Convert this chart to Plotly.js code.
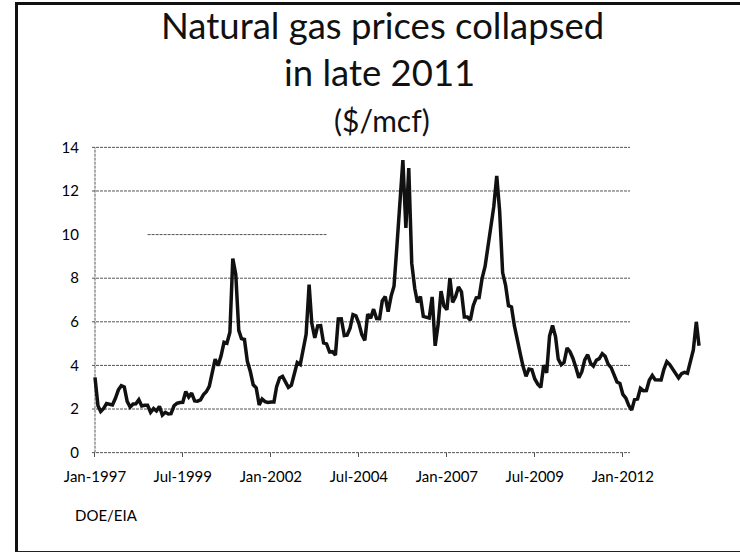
<!DOCTYPE html>
<html>
<head>
<meta charset="utf-8">
<script src="https://cdn.plot.ly/plotly-3.0.1.min.js"></script>
<style>
  body { margin: 0; background: #fff; }
  #wrap { position: relative; width: 740px; height: 552px; }
  #frame {
    position: absolute; left: 15px; top: 2px; width: 740px; height: 546px;
    border-left: 3px solid #111; border-top: 3px solid #111; border-bottom: 2px solid #222;
    pointer-events: none;
  }
</style>
</head>
<body>
<div id="wrap">
  <div id="chart" style="width:740px;height:552px;"></div>
  <div id="frame"></div>
</div>
<script>
// Henry Hub spot, $/mcf, monthly from Jan-1997
const startYear = 1997;
const price = [
  3.45, 2.15, 1.89, 2.03, 2.25, 2.20, 2.19, 2.49, 2.88, 3.07, 3.01, 2.35, // 1997
  2.09, 2.23, 2.24, 2.43, 2.14, 2.17, 2.17, 1.85, 2.02, 1.91, 2.12, 1.72, // 1998
  1.85, 1.77, 1.79, 2.15, 2.26, 2.30, 2.31, 2.80, 2.55, 2.73, 2.37, 2.36, // 1999
  2.42, 2.66, 2.79, 3.04, 3.59, 4.29, 3.99, 4.43, 5.06, 5.02, 5.52, 8.90, // 2000
  8.17, 5.61, 5.23, 5.19, 4.19, 3.72, 3.11, 2.97, 2.19, 2.46, 2.34, 2.30, // 2001
  2.32, 2.32, 3.03, 3.43, 3.50, 3.26, 2.99, 3.09, 3.55, 4.13, 4.04, 4.74, // 2002
  5.43, 7.71, 5.93, 5.26, 5.81, 5.82, 5.03, 4.99, 4.62, 4.63, 4.47, 6.13, // 2003
  6.14, 5.37, 5.39, 5.71, 6.33, 6.27, 5.93, 5.41, 5.15, 6.35, 6.17, 6.58, // 2004
  6.15, 6.14, 6.96, 7.16, 6.47, 7.18, 7.63, 9.53, 11.75, 13.42, 10.30, 13.05, // 2005
  8.69, 7.54, 6.89, 7.16, 6.25, 6.21, 6.17, 7.14, 4.90, 5.85, 7.41, 6.73, // 2006
  6.55, 8.00, 6.89, 7.16, 7.60, 7.37, 6.22, 6.22, 6.08, 6.74, 7.10, 7.11, // 2007
  7.99, 8.54, 9.41, 10.18, 11.27, 12.69, 11.09, 8.26, 7.67, 6.74, 6.68, 5.82, // 2008
  5.24, 4.52, 3.96, 3.50, 3.83, 3.80, 3.38, 3.14, 2.99, 4.01, 3.66, 5.35, // 2009
  5.83, 5.32, 4.29, 4.03, 4.14, 4.80, 4.63, 4.32, 3.89, 3.43, 3.71, 4.25, // 2010
  4.49, 4.09, 3.97, 4.24, 4.31, 4.54, 4.42, 4.06, 3.90, 3.57, 3.24, 3.17, // 2011
  2.67, 2.50, 2.17, 1.95, 2.43, 2.46, 2.95, 2.84, 2.85, 3.32, 3.54, 3.34, // 2012
  3.33, 3.33, 3.81, 4.17, 4.04, 3.83, 3.62, 3.43, 3.62, 3.68, 3.64, 4.24, // 2013
  4.71, 6.00, 4.90                                                         // 2014
];

const tickVals = ['1997-01-01', '1999-07-01', '2002-01-01', '2004-07-01', '2007-01-01', '2009-07-01', '2012-01-01'];
const tickText = ['Jan-1997', 'Jul-1999', 'Jan-2002', 'Jul-2004', 'Jan-2007', 'Jul-2009', 'Jan-2012'];
const yTicks = [0, 2, 4, 6, 8, 10, 12, 14];

// month dates for the series
const dates = price.map((v, i) => {
  const y = startYear + Math.floor(i / 12);
  const m = String(i % 12 + 1).padStart(2, '0');
  return y + '-' + m + '-01';
});

// plot box in pixels
const W = 740, H = 552;
const M = { l: 92, r: 38, t: 143, b: 95 };
const px = x => (x - M.l) / (W - M.l - M.r);
const py = y => (H - M.b - y) / (H - M.t - M.b);

const gridColor = '#555';
const gridEnd = '2012-03-15';

const shapes = yTicks.map(v => {
  // the 10 line only survives in part on the scan
  const partial = v === 10;
  return {
    type: 'line', layer: 'below', xref: 'x', yref: 'y',
    x0: partial ? '1998-07-01' : '1996-12-01', x1: partial ? '2003-08-01' : gridEnd,
    y0: v, y1: v,
    line: { color: gridColor, width: 1, dash: '3px,1px' }
  };
});
shapes.push({
  type: 'line', layer: 'below', xref: 'x', yref: 'y',
  x0: '1997-01-01', x1: '1997-01-01', y0: 0, y1: 14,
  line: { color: gridColor, width: 1, dash: '3px,1px' }
});

const titleFont = { family: 'Lato, sans-serif', size: 36.5, color: '#111' };

Plotly.newPlot('chart', [{
  x: dates,
  y: price,
  type: 'scatter',
  mode: 'lines',
  line: { color: '#111', width: 3.5 },
  hoverinfo: 'x+y'
}], {
  width: W, height: H,
  margin: M,
  paper_bgcolor: '#fff', plot_bgcolor: '#fff',
  showlegend: false,
  font: { family: 'Lato, sans-serif', size: 15, color: '#000' },
  xaxis: {
    type: 'date',
    range: ['1996-12-01', '2014-04-01'],
    tickvals: tickVals, ticktext: tickText,
    ticks: 'inside', ticklen: 4, tickcolor: gridColor, tickwidth: 1,
    showgrid: false, zeroline: false, showline: false,
    ticklabelstandoff: 9
  },
  yaxis: {
    range: [-0.2, 14.2],
    tickvals: yTicks,
    ticks: '', showgrid: false, zeroline: false, showline: false,
    ticklabelstandoff: 12
  },
  shapes: shapes,
  annotations: [
    { text: 'Natural gas prices collapsed', xref: 'paper', yref: 'paper', x: px(382), y: py(25),
      xanchor: 'center', yanchor: 'middle', showarrow: false, font: titleFont },
    { text: 'in late 2011', xref: 'paper', yref: 'paper', x: px(379), y: py(72),
      xanchor: 'center', yanchor: 'middle', showarrow: false, font: titleFont },
    { text: '($/mcf)', xref: 'paper', yref: 'paper', x: px(382), y: py(120),
      xanchor: 'center', yanchor: 'middle', showarrow: false,
      font: { family: 'Lato, sans-serif', size: 30, color: '#111' } },
    { text: 'DOE/EIA', xref: 'paper', yref: 'paper', x: px(73), y: py(515),
      xanchor: 'left', yanchor: 'middle', showarrow: false,
      font: { family: 'Lato, sans-serif', size: 15, color: '#000' } }
  ]
}, { displayModeBar: false, staticPlot: true });
</script>
</body>
</html>
